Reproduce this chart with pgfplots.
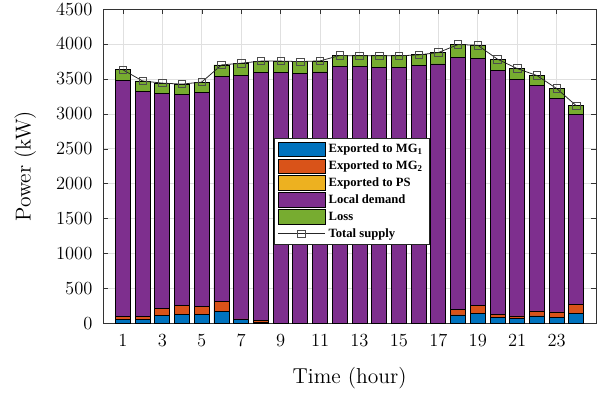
\documentclass[border=0pt]{standalone}
\usepackage{fontspec}
\usepackage{pgfplots}
\pgfplotsset{compat=1.18}
\usepackage{pgfplotstable}
\newfontfamily\legfont{Liberation Serif}

\definecolor{mblue}{rgb}{0,0.447,0.741}
\definecolor{morange}{rgb}{0.85,0.325,0.098}
\definecolor{myellow}{rgb}{0.929,0.694,0.125}
\definecolor{mpurple}{rgb}{0.494,0.184,0.556}
\definecolor{mgreen}{rgb}{0.466,0.674,0.188}

\pgfplotsset{
  widelegend/.style={legend image code/.code={\draw[mark repeat=2,mark phase=2,##1] plot coordinates {(0pt,0pt) (15.3pt,0pt) (30.6pt,0pt)};}},
  patchlegend/.style={legend image code/.code={\draw[fill=#1,draw=black,line width=0.5pt] (0pt,-4.8pt) rectangle (30.6pt,4.8pt);}},
  common/.style={
    scale only axis, width=320pt, height=204pt,
    xmin=0, xmax=25, ymin=0, ymax=4500,
  },
}

\pgfplotstableread{
h mgone mgtwo ps local loss total
1 50 45 0 3382 153 3630
2 50 50 0 3225 145 3470
3 110 105 0 3075 150 3440
4 125 130 0 3025 145 3425
5 125 110 0 3070 150 3455
6 165 145 0 3225 165 3700
7 50 12 0 3488 175 3725
8 15 30 0 3552 158 3755
9 0 0 0 3597 158 3755
10 0 0 0 3582 166 3748
11 0 0 0 3600 158 3758
12 0 0 0 3677 158 3835
13 0 0 0 3677 153 3830
14 0 0 0 3668 162 3830
15 0 0 0 3668 162 3830
16 0 0 0 3687 157 3844
17 0 0 0 3715 162 3877
18 120 77 0 3609 186 3992
19 145 115 0 3537 185 3982
20 80 45 0 3500 157 3782
21 72 34 0 3391 151 3648
22 105 72 0 3224 147 3548
23 90 72 0 3063 137 3362
24 140 130 0 2716 129 3115
}\datatable

\begin{document}
\begin{tikzpicture}
\begin{axis}[
  common, name=main,
  ybar stacked, bar width=0.76,
  xtick={1,3,...,23}, ytick={0,500,...,4500},
  grid=major, major grid style={black!12, line width=0.4pt},
  axis line style={black!80}, tick style={black!80},
  tick align=inside, major tick length=3pt,
  tick label style={font=\fontsize{12.5}{14}\selectfont},
  yticklabel style={xshift=-3.5pt},
  xticklabel style={yshift=-3.5pt},
  xlabel={Time (hour)}, ylabel={Power (kW)},
  label style={font=\fontsize{14}{16}\selectfont},
  xlabel style={at={(axis description cs:0.5,-0.175)},anchor=center},
  ylabel style={at={(axis description cs:-0.158,0.5)},anchor=center},
  scaled y ticks=false,
  yticklabel style={/pgf/number format/.cd,1000 sep={}},
]
\addplot[fill=mblue, draw=black, line width=0.5pt] table[x=h,y=mgone]{\datatable};
\addplot[fill=morange, draw=black, line width=0.5pt] table[x=h,y=mgtwo]{\datatable};
\addplot[fill=myellow, draw=black, line width=0.5pt] table[x=h,y=ps]{\datatable};
\addplot[fill=mpurple, draw=black, line width=0.5pt] table[x=h,y=local]{\datatable};
\addplot[fill=mgreen, draw=black, line width=0.5pt] table[x=h,y=loss]{\datatable};
\end{axis}
\begin{axis}[
  common, hide axis,
  legend style={at={(0.347,0.589)}, anchor=north west,
    font=\legfont\bfseries\fontsize{8.2}{9}\selectfont, draw=black!85, fill=white,
    inner xsep=2pt, inner ysep=2pt, row sep=0.9pt, cells={anchor=west},
    nodes={inner xsep=2pt, inner ysep=1.3pt}},
]
\addlegendimage{patchlegend=mblue}
\addlegendentry{Exported to MG\textsubscript{1}}
\addlegendimage{patchlegend=morange}
\addlegendentry{Exported to MG\textsubscript{2}}
\addlegendimage{patchlegend=myellow}
\addlegendentry{Exported to PS}
\addlegendimage{patchlegend=mpurple}
\addlegendentry{Local demand}
\addlegendimage{patchlegend=mgreen}
\addlegendentry{Loss}
\addplot[black!85, line width=0.5pt, mark=square, mark size=2.4pt, mark options={draw=black!70, solid}, widelegend]
  table[x=h,y=total]{\datatable};
\addlegendentry{Total supply}
\end{axis}
\pgfresetboundingbox
\path[use as bounding box] ([xshift=-67pt,yshift=-44.9pt]main.south west) rectangle ([xshift=0.6pt,yshift=5.9pt]main.north east);
\end{tikzpicture}
\end{document}
